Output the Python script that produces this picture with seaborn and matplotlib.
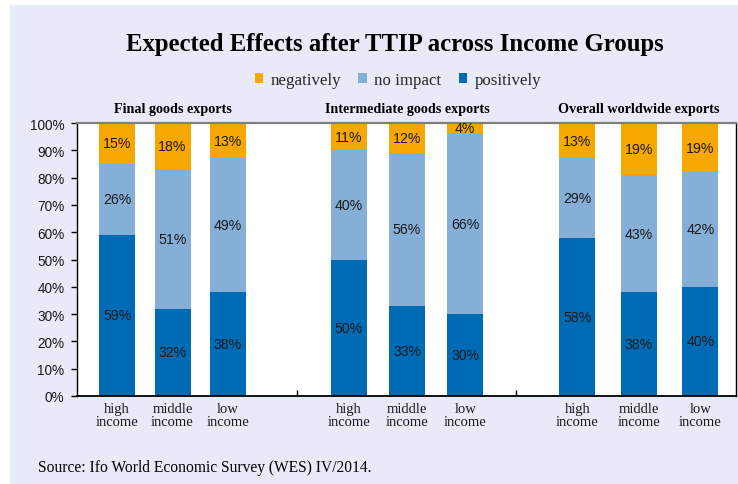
import numpy as np
import pandas as pd
import matplotlib
matplotlib.use("Agg")
import matplotlib.pyplot as plt
import seaborn as sns
from matplotlib.patches import Rectangle, Patch

sns.set_theme(style="white")

# ---- data -------------------------------------------------------------
groups = ["Final goods exports", "Intermediate goods exports", "Overall worldwide exports"]
incomes = ["high\nincome", "middle\nincome", "low\nincome"]
positively = [59, 32, 38, 50, 33, 30, 58, 38, 40]
no_impact = [26, 51, 49, 40, 56, 66, 29, 43, 42]
negatively = [15, 18, 13, 11, 12, 4, 13, 19, 19]
y_ticks = list(range(0, 101, 10))
series_names = ["negatively", "no impact", "positively"]

# ---- style ------------------------------------------------------------
ORANGE = "#F7A800"
LIGHT = "#86AFD8"
DARK = "#006BB5"
PANEL = "#E8EBF7"
SERIF = "Liberation Serif"
SANS = "Liberation Sans"

# group layout on a 12-unit axis (each group spans 4 units)
group_offset = [0.73, 0.95, 1.11]
bar_step = [1.01, 1.06, 1.12]
xpos = [4 * g + group_offset[g] + i * bar_step[g] for g in range(3) for i in range(3)]

df = pd.DataFrame({
    "x": xpos,
    "pos": positively,
    "mid": np.add(positively, no_impact),
    "top": np.add(np.add(positively, no_impact), negatively),
})

fig = plt.figure(figsize=(7.38, 4.85), dpi=100)
fig.patches.append(Rectangle((10 / 738, 0), 1 - 10 / 738, 1 - 6 / 485,
                             transform=fig.transFigure, facecolor=PANEL,
                             edgecolor="none", zorder=-5))

ax = fig.add_axes([77 / 738, 88 / 485, 659 / 738, 273 / 485])
ax.set_zorder(3)
ax.set_facecolor("white")

bar_w = 0.656 / min(np.diff(sorted(xpos)))
for col, color in [("top", ORANGE), ("mid", LIGHT), ("pos", DARK)]:
    sns.barplot(data=df, x="x", y=col, native_scale=True, orient="x",
                color=color, saturation=1, width=bar_w, errorbar=None,
                linewidth=0, ax=ax)

ax.set_xlim(0, 12)
ax.set_ylim(0, 100)
ax.set_xlabel("")
ax.set_ylabel("")

# segment labels
for x, p, n, m in zip(xpos, positively, no_impact, negatively):
    lo = 0
    for val in (p, n, m):
        hi = min(lo + val, 100)
        ax.text(x, (lo + hi) / 2, f"{val}%", ha="center", va="center",
                fontsize=10.2, family=SANS, color="#1a1a1a")
        lo += val

# axes styling
ax.set_yticks(y_ticks)
ax.set_yticklabels([f"{t}%" for t in y_ticks], family=SANS, fontsize=9.8, color="#1a1a1a")
ax.tick_params(axis="y", which="major", direction="out", length=4, width=1,
               color="black", pad=5, left=True)
ax.set_xticks(xpos)
ax.set_xticklabels(incomes * 3, family=SERIF, fontsize=10.5, color="#1a1a1a",
                   linespacing=1.0)
ax.tick_params(axis="x", which="major", length=0, pad=4)
ax.set_xticks([4, 8], minor=True)
ax.tick_params(axis="x", which="minor", direction="in", length=4, width=1,
               color="black", bottom=True)

for side in ["left", "right", "bottom"]:
    ax.spines[side].set_color("black")
    ax.spines[side].set_linewidth(1.0)
ax.spines["bottom"].set_linewidth(1.3)
ax.spines["top"].set_color("#7f7f7f")
ax.spines["top"].set_linewidth(1.6)
ax.grid(False)

# group headings above each trio of bars
for g, name in enumerate(groups):
    ax.text(xpos[3 * g + 1], 105.2, name, ha="center", va="center",
            fontsize=10.2, weight="bold", family=SERIF, color="black",
            clip_on=False)

# title, legend, source
fig.text(395 / 738, 1 - 45 / 485, "Expected Effects after TTIP across Income Groups",
         ha="center", va="center", fontsize=17.8, weight="bold", family=SERIF,
         color="black")

handles = [Patch(facecolor=c, edgecolor="none") for c in (ORANGE, LIGHT, DARK)]
fig.legend(handles, series_names, loc="center", bbox_to_anchor=(398 / 738, 1 - 81 / 485),
           ncol=3, frameon=False, prop={"family": SERIF, "size": 12.2},
           handlelength=0.5, handleheight=0.5, handletextpad=0.45,
           columnspacing=1.0)

fig.text(38 / 738, 1 - 468 / 485, "Source: Ifo World Economic Survey (WES) IV/2014.",
         ha="left", va="center", fontsize=11.2, family=SERIF, color="black")

fig.savefig("out.png", dpi=100, facecolor="white")
